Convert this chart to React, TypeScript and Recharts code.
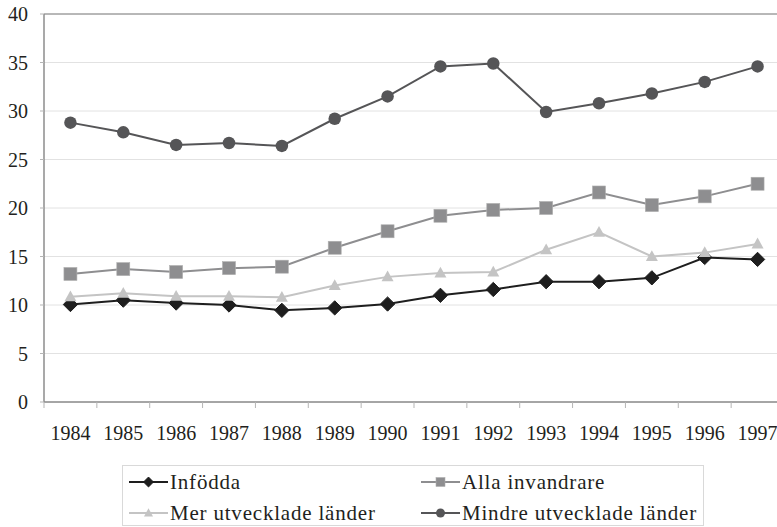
import React from 'react';
import { LineChart, Line, XAxis, YAxis, CartesianGrid, Legend, ReferenceLine } from 'recharts';

const years = ['1984', '1985', '1986', '1987', '1988', '1989', '1990', '1991', '1992', '1993', '1994', '1995', '1996', '1997'];
const infodda = [10.05, 10.5, 10.2, 10.0, 9.45, 9.7, 10.1, 11.0, 11.6, 12.4, 12.4, 12.8, 14.9, 14.7];
const alla = [13.2, 13.7, 13.4, 13.8, 13.95, 15.9, 17.6, 19.2, 19.8, 20.0, 21.6, 20.3, 21.2, 22.5];
const mer = [10.85, 11.2, 10.9, 10.9, 10.8, 12.0, 12.9, 13.3, 13.4, 15.7, 17.5, 15.0, 15.4, 16.3];
const mindre = [28.8, 27.8, 26.5, 26.7, 26.4, 29.2, 31.5, 34.6, 34.9, 29.9, 30.8, 31.8, 33.0, 34.6];
const yTicks = [0, 5, 10, 15, 20, 25, 30, 35, 40];
const seriesKeys = ['infodda', 'alla', 'mer', 'mindre'];
const seriesNames = ['Infödda', 'Alla invandrare', 'Mer utvecklade länder', 'Mindre utvecklade länder'];

const data = years.map((y, i) => ({ i, year: y, infodda: infodda[i], alla: alla[i], mer: mer[i], mindre: mindre[i] }));
const xTicks: number[] = [];
years.forEach((_, i) => { xTicks.push(i - 0.5); xTicks.push(i); });
xTicks.push(years.length - 0.5);

const FONT = '"Liberation Serif", "Times New Roman", serif';
const TEXT = '#231f20';

const COLORS: Record<string, string> = { infodda: '#1e1e1e', alla: '#8e8e90', mer: '#c4c4c4', mindre: '#555557' };
const SHAPES: Record<string, string> = { infodda: 'diamond', alla: 'square', mer: 'triangle', mindre: 'circle' };

function Marker({ shape, cx, cy, color, s }: { shape: string; cx: number; cy: number; color: string; s: number }) {
  if (shape === 'diamond') {
    const r = s * 0.55;
    return <polygon points={`${cx},${cy - r} ${cx + r},${cy} ${cx},${cy + r} ${cx - r},${cy}`} fill={color} stroke={color} strokeWidth={1} />;
  }
  if (shape === 'square') {
    const h = s / 2;
    return <rect x={cx - h} y={cy - h} width={s} height={s} fill={color} stroke="#b0b0b0" strokeWidth={0.6} />;
  }
  if (shape === 'triangle') {
    const h = s / 2;
    return <polygon points={`${cx},${cy - h * 1.05} ${cx + h},${cy + h * 0.75} ${cx - h},${cy + h * 0.75}`} fill={color} />;
  }
  return <circle cx={cx} cy={cy} r={s / 2} fill={color} />;
}

const makeDot = (key: string, size: number) => (props: any) => {
  const { cx, cy, index } = props;
  if (cx == null || cy == null) return <g key={`${key}-${index}`} />;
  return (
    <g key={`${key}-${index}`}>
      <Marker shape={SHAPES[key]} cx={cx} cy={cy} color={COLORS[key]} s={size} />
    </g>
  );
};

const XTick = (props: any) => {
  const { x, y, payload } = props;
  const v = payload.value as number;
  if (Number.isInteger(v)) {
    return (
      <text x={x} y={y + 38} textAnchor="middle" style={{ fontFamily: FONT, fontSize: 20 }} fill={TEXT}>
        {years[v]}
      </text>
    );
  }
  return <line x1={x} x2={x} y1={y} y2={y + 6} stroke="#b5b5b5" strokeWidth={1} />;
};

const YTick = (props: any) => {
  const { x, y, payload } = props;
  return (
    <text x={x} y={y + 7} textAnchor="end" style={{ fontFamily: FONT, fontSize: 20 }} fill={TEXT}>
      {payload.value}
    </text>
  );
};

const renderLegend = () => {
  return (
    <div
      style={{
        border: '1px solid #d9d9d9',
        width: 582,
        height: 61,
        boxSizing: 'border-box',
        position: 'relative',
        background: '#fff',
      }}
    >
      {seriesKeys.map((key, i) => (
        <div
          key={key}
          style={{
            position: 'absolute',
            left: i % 2 === 0 ? 5 : 297,
            top: i < 2 ? 4 : 35,
            height: 24,
            display: 'flex',
            alignItems: 'center',
            whiteSpace: 'nowrap',
          }}
        >
          <svg width={42} height={24} style={{ display: 'block' }}>
            <line x1={1} x2={40} y1={12} y2={12} stroke={COLORS[key]} strokeWidth={2} />
            <Marker shape={SHAPES[key]} cx={20.5} cy={12} color={COLORS[key]} s={9} />
          </svg>
          <span style={{ marginLeft: 0, lineHeight: '24px', fontFamily: FONT, fontSize: 21, letterSpacing: 0.8, color: TEXT }}>
            {seriesNames[i]}
          </span>
        </div>
      ))}
    </div>
  );
};

export default function App() {
  return (
    <div style={{ position: 'absolute', left: 0, top: 0, width: 777, height: 527, overflow: 'hidden', background: '#fff', fontFamily: FONT }}>
      <LineChart width={784} height={527} data={data} margin={{ top: 14, right: 0, left: 0, bottom: 0 }}>
        <CartesianGrid vertical={false} stroke="#e2e2e2" strokeWidth={1} />
        <XAxis
          dataKey="i"
          type="number"
          domain={[-0.5, years.length - 0.5]}
          ticks={xTicks}
          interval={0}
          tick={<XTick />}
          tickLine={false}
          tickSize={0}
          tickMargin={0}
          height={125}
          axisLine={{ stroke: '#8c8c8c', strokeWidth: 1.5 }}
        />
        <YAxis
          width={44}
          domain={[0, 40]}
          ticks={yTicks}
          interval={0}
          tickSize={4}
          tickMargin={12}
          tickLine={{ stroke: '#b5b5b5' }}
          axisLine={{ stroke: '#8c8c8c', strokeWidth: 1.5 }}
          tick={<YTick />}
        />
        <ReferenceLine y={40} stroke="#a5a5a5" strokeWidth={1.5} />
        <Legend
          layout="horizontal"
          verticalAlign="middle"
          align="center"
          content={renderLegend}
          wrapperStyle={{ left: 122, top: 465, width: 582, height: 61 }}
        />
        <Line dataKey="infodda" name={seriesNames[0]} stroke={COLORS.infodda} strokeWidth={2} dot={makeDot('infodda', 13)} isAnimationActive={false} />
        <Line dataKey="alla" name={seriesNames[1]} stroke={COLORS.alla} strokeWidth={2} dot={makeDot('alla', 13)} isAnimationActive={false} />
        <Line dataKey="mer" name={seriesNames[2]} stroke={COLORS.mer} strokeWidth={2} dot={makeDot('mer', 12)} isAnimationActive={false} />
        <Line dataKey="mindre" name={seriesNames[3]} stroke={COLORS.mindre} strokeWidth={2} dot={makeDot('mindre', 12.5)} isAnimationActive={false} />
      </LineChart>
    </div>
  );
}
